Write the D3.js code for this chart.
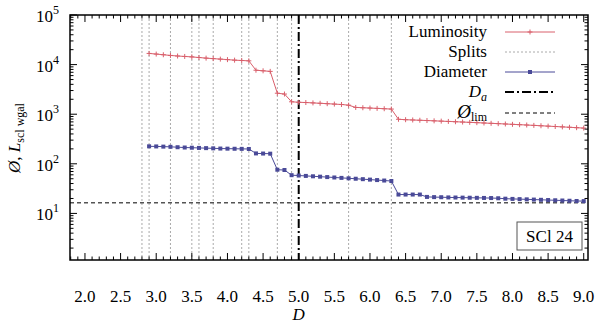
<!DOCTYPE html>
<html><head><meta charset="utf-8">
<script src="https://cdn.jsdelivr.net/npm/d3@7"></script>
<style>body{margin:0;background:#fff}</style>
</head><body><svg id="c" width="600" height="323" style="font-family:'Liberation Serif','DejaVu Serif','Times New Roman',serif"></svg>
<script>
const dValues = [2.9,3.0,3.1,3.2,3.3,3.4,3.5,3.6,3.7,3.8,3.9,4.0,4.1,4.2,4.3,4.4,4.5,4.6,4.7,4.8,4.9,5.0,5.1,5.2,5.3,5.4,5.5,5.6,5.7,5.8,5.9,6.0,6.1,6.2,6.3,6.4,6.5,6.6,6.7,6.8,6.9,7.0,7.1,7.2,7.3,7.4,7.5,7.6,7.7,7.8,7.9,8.0,8.1,8.2,8.3,8.4,8.5,8.6,8.7,8.8,8.9,9.0];
const luminosity = [16800,16300,15800,15300,14900,14600,14300,13900,13500,13200,12900,12600,12300,12100,11900,7700,7500,7300,2650,2550,1780,1740,1720,1690,1660,1630,1600,1570,1520,1370,1350,1330,1310,1290,1270,790,775,765,755,745,735,725,715,705,695,685,675,665,655,645,635,625,615,605,595,585,575,565,555,545,535,525];
const diameter = [225,224,222,220,216,213,211,209,207,205,203,202,201,200,199,162,161,160,76,75,59,58,57,56,55,54,53,52,51,50,49,48,47,46,45,24,24,24,24,21.5,21.3,21.2,21.0,20.9,20.8,20.7,20.6,20.5,20.4,20.2,19.8,19.6,19.4,19.2,19.0,18.8,18.6,18.4,18.2,18.0,17.8,17.7];
const splits = [2.8,2.9,3.2,3.5,3.6,3.8,4.2,4.3,4.7,4.9,5.7,6.3];
const dA = 5.0;
const dLim = 16.4;
const xTicks = [2.0,2.5,3.0,3.5,4.0,4.5,5.0,5.5,6.0,6.5,7.0,7.5,8.0,8.5,9.0];
const yTicks = [10,100,1000,10000,100000];
const legendLabels = ["Luminosity","Splits","Diameter","Da","Ølim"];

const svg = d3.select("#c");
const L=70, R=588, T=15, B=260;
const x = d3.scaleLinear().domain([1.79,9.06]).range([L,R]);
const y = d3.scaleLog().domain([1.15,1e5]).range([B,T]);
const cLum="#d9606c", cDia="#4a4a98";

svg.append("g").selectAll("line").data(splits).join("line")
  .attr("x1",d=>x(d)).attr("x2",d=>x(d)).attr("y1",T).attr("y2",B)
  .attr("stroke","#aaa").attr("stroke-width",1).attr("stroke-dasharray","2,2");
svg.append("line").attr("x1",L).attr("x2",R).attr("y1",y(dLim)).attr("y2",y(dLim))
  .attr("stroke","#555").attr("stroke-width",1.6).attr("stroke-dasharray","4,3");
svg.append("line").attr("x1",x(dA)).attr("x2",x(dA)).attr("y1",T).attr("y2",B)
  .attr("stroke","#000").attr("stroke-width",2).attr("stroke-dasharray","9,3,2,3");

const line = d3.line().x(d=>x(d[0])).y(d=>y(d[1]));
const lum = dValues.map((d,i)=>[d,luminosity[i]]);
const dia = dValues.map((d,i)=>[d,diameter[i]]);
svg.append("path").datum(lum).attr("d",line).attr("fill","none").attr("stroke",cLum).attr("stroke-width",1);
svg.append("g").selectAll("path").data(lum).join("path")
  .attr("d",d=>`M${x(d[0])-2.5},${y(d[1])}h5M${x(d[0])},${y(d[1])-2.5}v5`).attr("stroke",cLum).attr("stroke-width",1);
svg.append("path").datum(dia).attr("d",line).attr("fill","none").attr("stroke",cDia).attr("stroke-width",1);
svg.append("g").selectAll("rect").data(dia).join("rect")
  .attr("x",d=>x(d[0])-2).attr("y",d=>y(d[1])-2).attr("width",4).attr("height",4).attr("fill",cDia);

const g = svg.append("g").attr("stroke","#000");
const xMinor = d3.range(18,91).map(v=>v/10);
xMinor.forEach(v=>{
  const major = Math.abs(v*2-Math.round(v*2))<1e-6;
  const len = major?7:3.5;
  g.append("line").attr("x1",x(v)).attr("x2",x(v)).attr("y1",B).attr("y2",B-len);
  g.append("line").attr("x1",x(v)).attr("x2",x(v)).attr("y1",T).attr("y2",T+len);
});
for(let e=0;e<5;e++){
  for(let m=1;m<10;m++){
    const v=m*Math.pow(10,e);
    if(v<1.15) continue;
    const len = m===1?7:3.5;
    g.append("line").attr("x1",L).attr("x2",L+len).attr("y1",y(v)).attr("y2",y(v));
    g.append("line").attr("x1",R).attr("x2",R-len).attr("y1",y(v)).attr("y2",y(v));
  }
}
g.append("line").attr("x1",L).attr("x2",L+7).attr("y1",y(1e5)).attr("y2",y(1e5));
svg.append("rect").attr("x",L).attr("y",T).attr("width",R-L).attr("height",B-T)
  .attr("fill","none").attr("stroke","#000").attr("stroke-width",1.5);

svg.append("g").selectAll("text").data(xTicks).join("text")
  .attr("x",d=>x(d)).attr("y",302).attr("text-anchor","middle").attr("font-size",17)
  .text(d=>d.toFixed(1));
const yt = svg.append("g").selectAll("text").data(yTicks).join("text")
  .attr("x",59).attr("y",d=>y(d)+7).attr("text-anchor","end").attr("font-size",17);
yt.append("tspan").text("10");
yt.append("tspan").attr("dy",-8).attr("font-size",12).text(d=>Math.round(Math.log10(d)));

svg.append("text").attr("x",x(5.0)).attr("y",320).attr("text-anchor","middle")
  .attr("font-size",17).attr("font-style","italic").text("D");
const yl = svg.append("text").attr("transform","translate(20,138) rotate(-90)")
  .attr("text-anchor","middle").attr("font-size",17);
yl.append("tspan").attr("font-style","italic").text("Ø");
yl.append("tspan").text(", ");
yl.append("tspan").attr("font-style","italic").text("L");
yl.append("tspan").attr("dy",4).attr("font-size",12).text("scl wgal");

const lx=487, rows=[32,52,72,92,113];
const leg = svg.append("g");
leg.append("text").attr("x",lx).attr("y",rows[0]+5).attr("text-anchor","end").attr("font-size",17).text(legendLabels[0]);
leg.append("text").attr("x",lx).attr("y",rows[1]+5).attr("text-anchor","end").attr("font-size",17).text(legendLabels[1]);
leg.append("text").attr("x",lx).attr("y",rows[2]+5).attr("text-anchor","end").attr("font-size",17).text(legendLabels[2]);
const t3 = leg.append("text").attr("x",lx).attr("y",rows[3]+5).attr("text-anchor","end").attr("font-size",17);
t3.append("tspan").attr("font-style","italic").text("D");
t3.append("tspan").attr("dy",4).attr("font-size",12).attr("font-style","italic").text("a");
const t4 = leg.append("text").attr("x",lx).attr("y",rows[4]+5).attr("text-anchor","end").attr("font-size",17);
t4.append("tspan").attr("font-style","italic").attr("font-size",19).text("Ø");
t4.append("tspan").attr("dy",3).attr("font-size",12).text("lim");
const sx0=505, sx1=555;
leg.append("line").attr("x1",sx0).attr("x2",sx1).attr("y1",rows[0]).attr("y2",rows[0]).attr("stroke",cLum);
leg.append("path").attr("d",`M${(sx0+sx1)/2-2.5},${rows[0]}h5M${(sx0+sx1)/2},${rows[0]-2.5}v5`).attr("stroke",cLum);
leg.append("line").attr("x1",sx0).attr("x2",sx1).attr("y1",rows[1]).attr("y2",rows[1]).attr("stroke","#aaa").attr("stroke-dasharray","2,2");
leg.append("line").attr("x1",sx0).attr("x2",sx1).attr("y1",rows[2]).attr("y2",rows[2]).attr("stroke",cDia);
leg.append("rect").attr("x",(sx0+sx1)/2-2).attr("y",rows[2]-2).attr("width",4).attr("height",4).attr("fill",cDia);
leg.append("line").attr("x1",sx0).attr("x2",sx1).attr("y1",rows[3]).attr("y2",rows[3]).attr("stroke","#000").attr("stroke-width",2).attr("stroke-dasharray","9,3,2,3");
leg.append("line").attr("x1",sx0).attr("x2",sx1).attr("y1",rows[4]).attr("y2",rows[4]).attr("stroke","#000").attr("stroke-width",1).attr("stroke-dasharray","4,3");

svg.append("rect").attr("x",517).attr("y",222).attr("width",65).attr("height",28)
  .attr("fill","#fff").attr("stroke","#555").attr("stroke-width",1);
svg.append("text").attr("x",549.5).attr("y",242).attr("text-anchor","middle").attr("font-size",17).text("SCl 24");
</script></body></html>
